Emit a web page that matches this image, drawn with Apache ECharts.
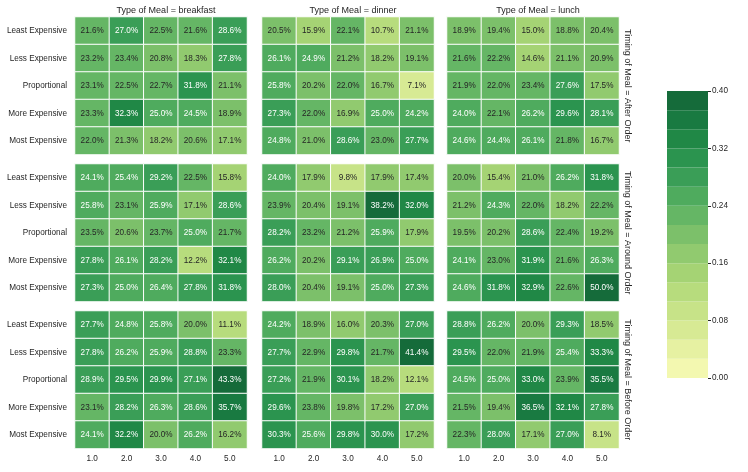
<!DOCTYPE html>
<html>
<head>
<meta charset="utf-8">
<script src="https://cdn.jsdelivr.net/npm/echarts@6/dist/echarts.min.js"></script>
<style>html,body{margin:0;padding:0;background:#fff}#c{width:748px;height:472px}</style>
</head>
<body>
<div id="c"></div>
<script>
const rows = ['Least Expensive','Less Expensive','Proportional','More Expensive','Most Expensive'];
const cols = ['1.0','2.0','3.0','4.0','5.0'];
const meals = ['breakfast','dinner','lunch'];
const timings = ['After Order','Around Order','Before Order'];
const colorTicks = [0.00, 0.08, 0.16, 0.24, 0.32, 0.40];
const colorMax = 0.40;
const palette = ['#f3f8b0','#e6f1a2','#d7ea94','#c7e388','#b7dc7d','#a5d374','#91ca6f','#7cc06a','#65b665','#4fab5e','#3a9e57','#2b944f','#208846','#197a41','#156b3a'];

const afterBreakfast = [
  [0.216,0.270,0.225,0.216,0.286],
  [0.232,0.234,0.208,0.183,0.278],
  [0.231,0.225,0.227,0.318,0.211],
  [0.233,0.323,0.250,0.245,0.189],
  [0.220,0.213,0.182,0.206,0.171]];
const afterDinner = [
  [0.205,0.159,0.221,0.107,0.211],
  [0.261,0.249,0.212,0.182,0.191],
  [0.258,0.202,0.220,0.167,0.071],
  [0.273,0.220,0.169,0.250,0.242],
  [0.248,0.210,0.286,0.230,0.277]];
const afterLunch = [
  [0.189,0.194,0.150,0.188,0.204],
  [0.216,0.222,0.146,0.211,0.209],
  [0.219,0.220,0.234,0.276,0.175],
  [0.240,0.221,0.262,0.296,0.281],
  [0.246,0.244,0.261,0.218,0.167]];
const aroundBreakfast = [
  [0.241,0.254,0.292,0.225,0.158],
  [0.258,0.231,0.259,0.171,0.286],
  [0.235,0.206,0.237,0.250,0.217],
  [0.278,0.261,0.282,0.122,0.321],
  [0.273,0.250,0.264,0.278,0.318]];
const aroundDinner = [
  [0.240,0.179,0.098,0.179,0.174],
  [0.239,0.204,0.191,0.382,0.320],
  [0.282,0.232,0.212,0.259,0.179],
  [0.262,0.202,0.291,0.269,0.250],
  [0.280,0.204,0.191,0.250,0.273]];
const aroundLunch = [
  [0.200,0.154,0.210,0.262,0.318],
  [0.212,0.243,0.220,0.182,0.222],
  [0.195,0.202,0.286,0.224,0.192],
  [0.241,0.230,0.319,0.216,0.263],
  [0.246,0.318,0.329,0.226,0.500]];
const beforeBreakfast = [
  [0.277,0.248,0.258,0.200,0.111],
  [0.278,0.262,0.259,0.288,0.233],
  [0.289,0.295,0.299,0.271,0.433],
  [0.231,0.282,0.263,0.286,0.357],
  [0.241,0.322,0.200,0.262,0.162]];
const beforeDinner = [
  [0.242,0.189,0.160,0.203,0.270],
  [0.277,0.229,0.298,0.217,0.414],
  [0.272,0.219,0.301,0.182,0.121],
  [0.296,0.238,0.198,0.172,0.270],
  [0.303,0.256,0.298,0.300,0.172]];
const beforeLunch = [
  [0.288,0.262,0.200,0.293,0.185],
  [0.295,0.220,0.219,0.254,0.333],
  [0.245,0.250,0.330,0.239,0.355],
  [0.215,0.194,0.365,0.321,0.278],
  [0.223,0.280,0.171,0.270,0.081]];

const panels = [
  [afterBreakfast, afterDinner, afterLunch],
  [aroundBreakfast, aroundDinner, aroundLunch],
  [beforeBreakfast, beforeDinner, beforeLunch]];

const FONT = '"Liberation Sans", Arial, sans-serif';
const TXT = '#262626';
const gridLefts = [75, 262, 447];
const gridTops = [17, 164, 311];
const gridW = 172, gridH = 137.5;

function band(v) {
  let i = Math.floor(v * palette.length / colorMax + 1e-9);
  return Math.max(0, Math.min(palette.length - 1, i));
}

const grids = [], xAxes = [], yAxes = [], series = [], titles = [];
for (let r = 0; r < 3; r++) {
  for (let c = 0; c < 3; c++) {
    const idx = r * 3 + c;
    grids.push({left: gridLefts[c], top: gridTops[r], width: gridW, height: gridH,
      containLabel: false, outerBoundsMode: 'none'});
    xAxes.push({
      type: 'category', gridIndex: idx, data: cols, position: 'bottom',
      axisLine: {show: false}, axisTick: {show: false}, splitLine: {show: false},
      axisLabel: {show: r === 2, color: TXT, fontSize: 8.2, fontFamily: FONT, margin: 6}
    });
    const y = {
      type: 'category', gridIndex: idx, data: rows, inverse: true,
      axisLine: {show: false}, axisTick: {show: false}, splitLine: {show: false},
      axisLabel: {show: c === 0, color: TXT, fontSize: 8.2, fontFamily: FONT, margin: 8}
    };
    if (c === 2) {
      y.position = 'right';
      y.name = 'Timing of Meal = ' + timings[r];
      y.nameLocation = 'middle';
      y.nameRotate = -90;
      y.nameGap = 4;
      y.nameTextStyle = {color: TXT, fontSize: 9, fontFamily: FONT};
    }
    yAxes.push(y);
    const m = panels[r][c];
    const data = [];
    for (let i = 0; i < rows.length; i++) {
      for (let j = 0; j < cols.length; j++) {
        const v = m[i][j];
        const b = band(v);
        data.push({
          value: [j, i, v],
          itemStyle: {color: palette[b]},
          label: {color: b >= 9 ? '#ffffff' : TXT}
        });
      }
    }
    series.push({
      type: 'heatmap', xAxisIndex: idx, yAxisIndex: idx, data: data,
      itemStyle: {borderColor: '#ffffff', borderWidth: 1},
      label: {show: true, fontSize: 8.2, fontFamily: FONT,
        formatter: p => (p.value[2] * 100).toFixed(1) + '%'},
      emphasis: {disabled: true}
    });
    if (r === 0) {
      titles.push({
        text: 'Type of Meal = ' + meals[c],
        left: gridLefts[c] + gridW / 2, top: 1, textAlign: 'center',
        textStyle: {color: TXT, fontSize: 9, fontWeight: 'normal', fontFamily: FONT}
      });
    }
  }
}

// colorbar
const cbIdx = 9;
grids.push({left: 667, top: 91, width: 41, height: 287, containLabel: false, outerBoundsMode: 'none'});
xAxes.push({type: 'category', gridIndex: cbIdx, data: [''], show: false, boundaryGap: true});
yAxes.push({
  type: 'value', gridIndex: cbIdx, min: 0, max: colorMax, interval: 0.08, position: 'right',
  axisLine: {show: false}, splitLine: {show: false},
  axisTick: {show: true, length: 3, lineStyle: {color: TXT, width: 1}},
  axisLabel: {color: TXT, fontSize: 8.2, fontFamily: FONT, margin: 4, formatter: v => v.toFixed(2)}
});
const step = colorMax / palette.length;
palette.forEach((col, i) => {
  series.push({
    type: 'bar', xAxisIndex: cbIdx, yAxisIndex: cbIdx, stack: 'cb', barWidth: '100%',
    data: [step], itemStyle: {color: col}, silent: true, animation: false
  });
});

const chart = echarts.init(document.getElementById('c'));
chart.setOption({
  animation: false,
  backgroundColor: '#ffffff',
  title: titles,
  grid: grids,
  xAxis: xAxes,
  yAxis: yAxes,
  series: series
});
</script>
</body>
</html>
